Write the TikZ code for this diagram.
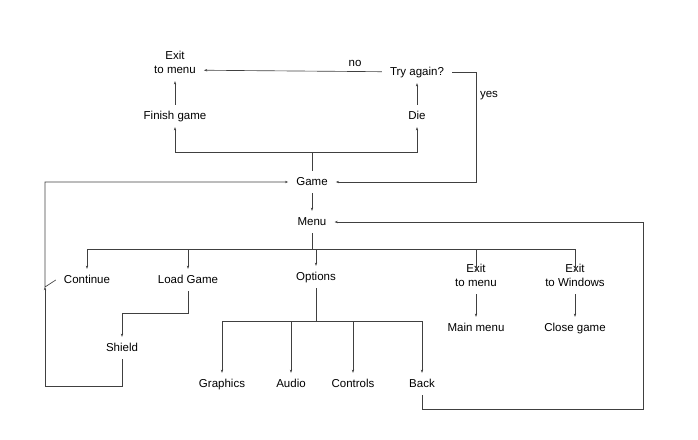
\documentclass[tikz,border=0pt]{standalone}
\usepackage{fontspec}
\setmainfont{Liberation Sans}
\usetikzlibrary{arrows.meta}
\begin{document}
\begin{tikzpicture}[x=1pt, y=-1pt,
    box/.style={font=\fontsize{11.5}{14}\selectfont, align=center, inner xsep=8pt, inner ysep=5.5pt, text height=8.5pt, text depth=2.5pt},
    lbl/.style={font=\fontsize{11.5}{14}\selectfont, inner sep=1pt},
    link/.style={draw=black!75, line width=0.65pt},
    arr/.style={link, -{Stealth[length=3.2pt, width=2.4pt]}}]
  \useasboundingbox (0,0) rectangle (698,439);
  \draw
    (175,70) node[box] (exittop){Exit\\to menu}
    (175,116) node[box] (finish){Finish game}
    (417,72) node[box] (tryagain){Try again?}
    (417,116) node[box] (die){Die}
    (312,182) node[box] (game){Game}
    (312,222) node[box] (menu){Menu}
    (87,280) node[box] (continue){Continue}
    (188,280) node[box] (loadgame){Load Game}
    (316,277) node[box] (options){Options}
    (476,283) node[box] (exitmenu){Exit\\to menu}
    (575,283) node[box] (exitwin){Exit\\to Windows}
    (476,328) node[box] (mainmenu){Main menu}
    (575,328) node[box] (closegame){Close game}
    (122,348) node[box] (shield){Shield}
    (222,384) node[box] (graphics){Graphics}
    (291,384) node[box] (audio){Audio}
    (353,384) node[box] (controls){Controls}
    (422,384) node[box] (back){Back};
  \node[lbl] (no) at (355,63) {no};
  \node[lbl] (yes) at (489,96) {yes};
  \coordinate (gamefork) at (312,152);
  \coordinate (yesrail) at (476,72);
  \coordinate (menufork) at (312,249);
  \coordinate (optfork) at (316,321);
  \coordinate (loadbend) at (188,313);
  \coordinate (leftrail) at (45,386);
  \coordinate (contjoin) at (45,287);
  \coordinate (backrail) at (643,409);
  \begin{scope}[arr]
    \draw (finish) -- (exittop);
    \draw (tryagain) -- (exittop);
    \draw (die) -- (tryagain);
    \draw[link, -] (game.north) -- (gamefork);
    \draw (gamefork) -| (finish.south);
    \draw (gamefork) -| (die.south);
    \draw (tryagain.east) -- (yesrail) |- (game.east);
    \draw (game) -- (menu);
    \draw[link, -] (menu.south) -- (menufork);
    \draw (menufork) -| (continue.north);
    \draw (menufork) -| (loadgame.north);
    \draw (menufork) -| (options.north);
    \draw (menufork) -| (exitmenu.north);
    \draw (menufork) -| (exitwin.north);
    \draw (exitmenu) -- (mainmenu);
    \draw (exitwin) -- (closegame);
    \draw[link, -] (options.south) -- (optfork);
    \draw (optfork) -| (graphics.north);
    \draw (optfork) -| (audio.north);
    \draw (optfork) -| (controls.north);
    \draw (optfork) -| (back.north);
    \draw (loadgame.south) -- (loadbend) -| (shield.north);
    \draw (shield.south) |- (leftrail) -- (contjoin);
    \draw (continue.west) -- (contjoin) |- (game.west);
    \draw (back.south) |- (backrail) |- (menu.east);
  \end{scope}
\end{tikzpicture}
\end{document}
